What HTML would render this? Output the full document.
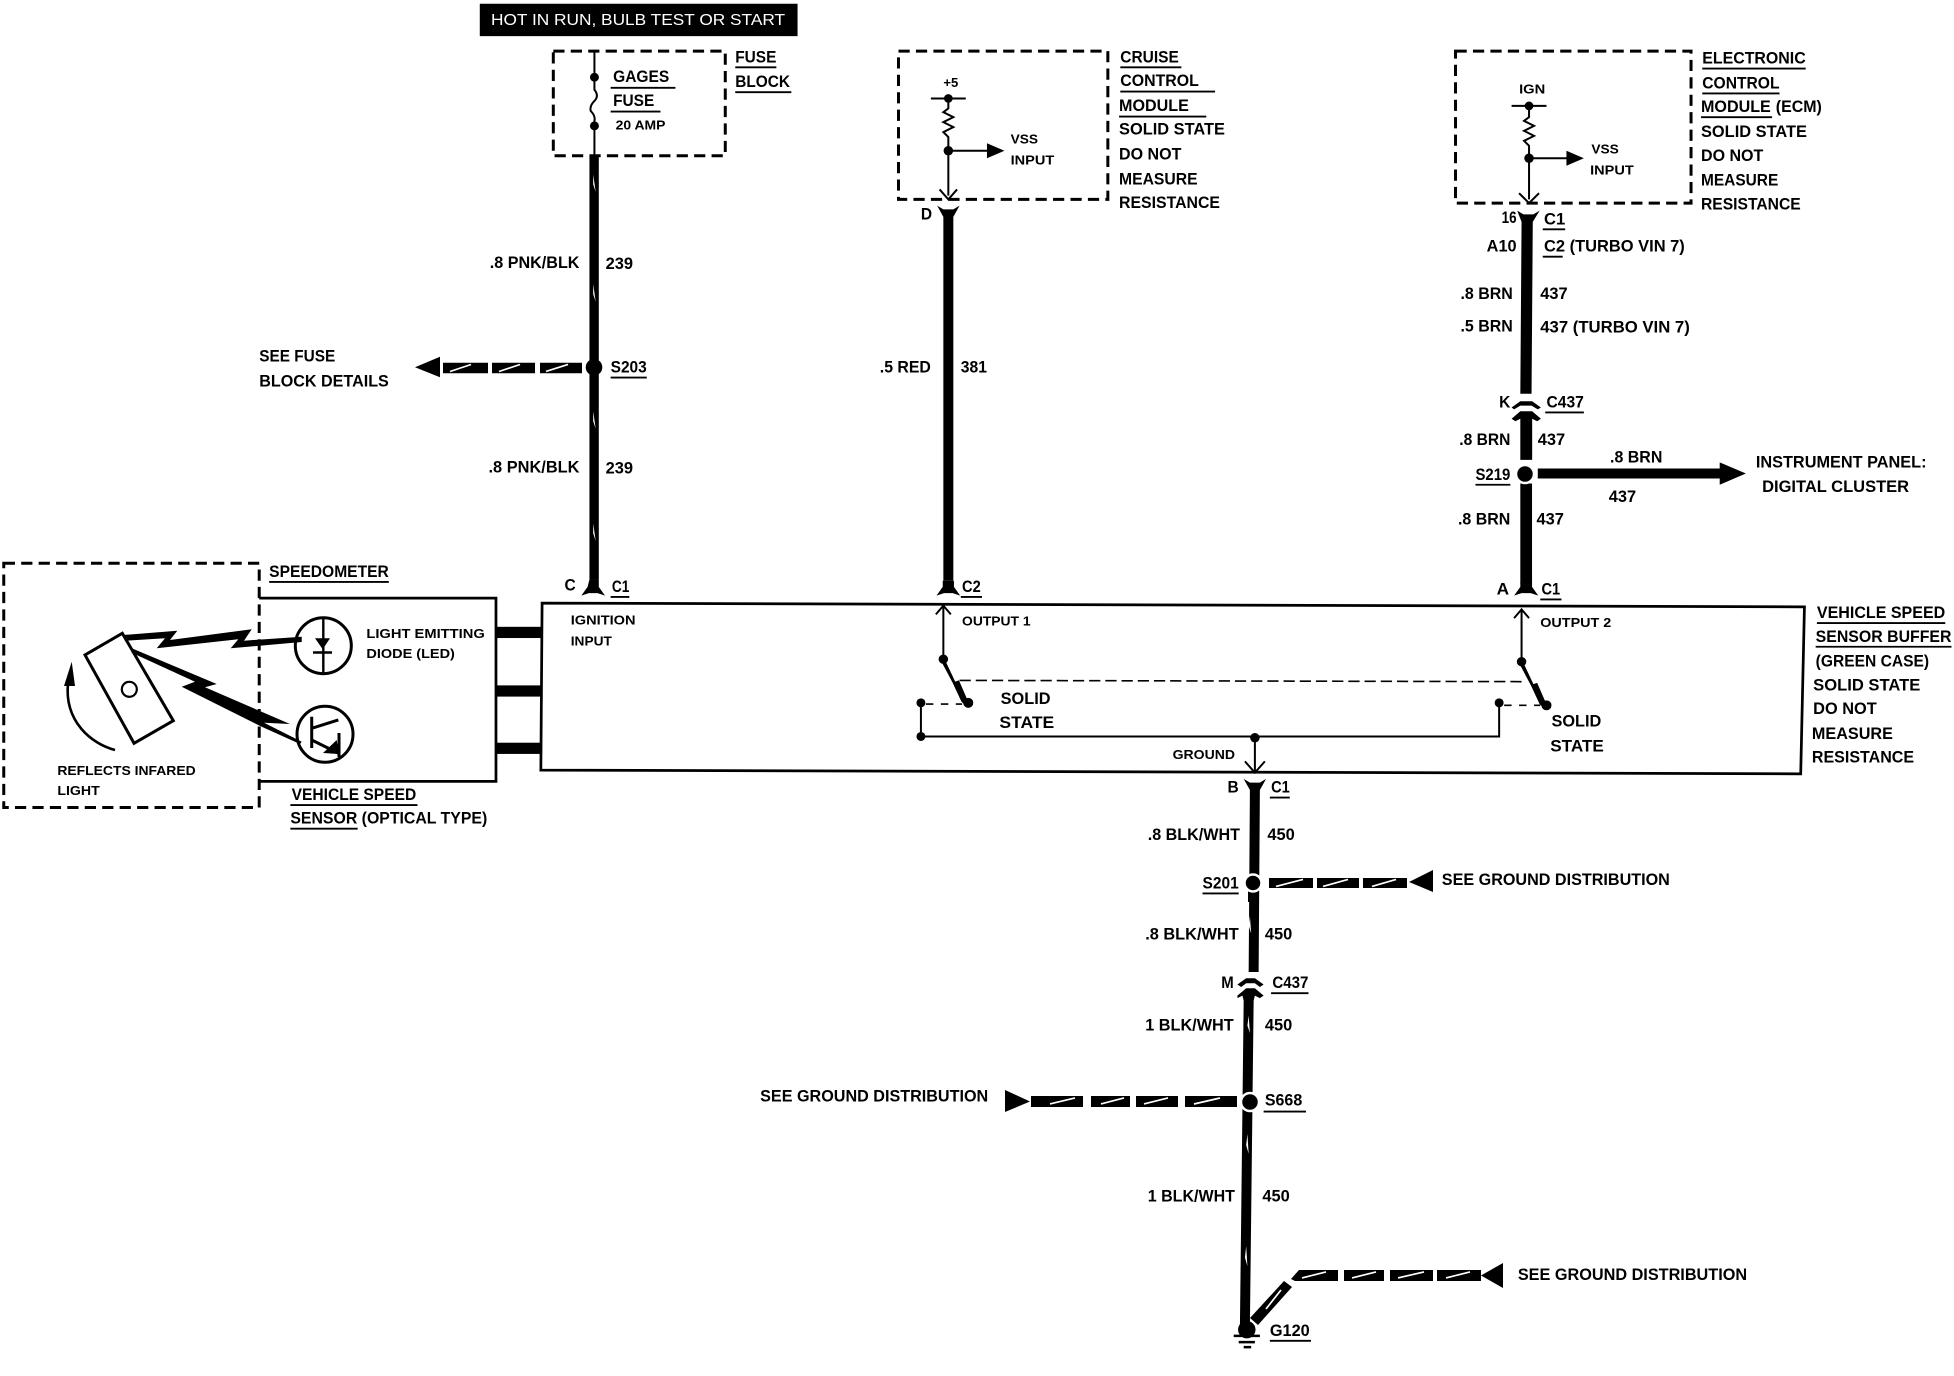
<!DOCTYPE html>
<html><head><meta charset="utf-8"><style>
html,body{margin:0;padding:0;background:#fff}
svg{display:block}
text{font-family:"Liberation Sans",sans-serif;font-weight:bold;font-size:13px;fill:#000}
.s{font-size:10.5px}
.w{fill:#fff;stroke:none}
.d{fill:none;stroke:#000;stroke-width:2.4;stroke-dasharray:9 5}
.l{fill:none;stroke:#000;stroke-width:1.6}
.u{fill:none;stroke:#000;stroke-width:1.5}
.r{stroke:#fff;stroke-width:2.500}
.sl{fill:none;stroke:#fff;stroke-width:1.700}
</style></head><body>
<svg width="1954" height="1376" viewBox="0 0 1568 1104.2" xmlns="http://www.w3.org/2000/svg">
<rect width="1568" height="1105" fill="#fff"/>
<!-- title -->
<rect x="385" y="3" width="255" height="26" fill="#000"/>
<text x="394" y="20" textLength="236" lengthAdjust="spacingAndGlyphs" style="fill:#fff;font-weight:normal;font-size:12.5px">HOT IN RUN, BULB TEST OR START</text>

<!-- fuse block -->
<rect class="d" x="444" y="41" width="138" height="84"/>
<path class="l" d="M477 41V72q4 5 0 9t-3 8q4 4 3 8V125"/>
<circle cx="477" cy="62" r="3.600"/><circle cx="477" cy="101" r="3.600"/>
<text x="492" y="66" textLength="45" lengthAdjust="spacingAndGlyphs">GAGES</text>
<path class="u" d="M490 70.500H542"/>
<text x="492" y="85" textLength="33" lengthAdjust="spacingAndGlyphs">FUSE</text>
<path class="u" d="M490 89.500H530"/>
<text class="s" x="494" y="104" textLength="40" lengthAdjust="spacingAndGlyphs">20 AMP</text>
<text x="590" y="50" textLength="33" lengthAdjust="spacingAndGlyphs">FUSE</text>
<path class="u" d="M590 54H623"/>
<text x="590" y="70" textLength="44" lengthAdjust="spacingAndGlyphs">BLOCK</text>
<path class="u" d="M590 74H635"/>

<!-- wire 239 -->
<rect x="473" y="125" width="7.500" height="340"/>
<path d="M473 465h7.500l0 6 5 7-6-2h-7l-6 2 5-7z"/>
<path class="w" d="M476 140l2 14-2-6zM476 228l2 14-2-6zM476 330l2 14-2-6zM476 420l2 14-2-6z"/>
<text x="393" y="215" textLength="72" lengthAdjust="spacingAndGlyphs">.8 PNK/BLK</text>
<text x="486" y="216" textLength="22" lengthAdjust="spacingAndGlyphs">239</text>
<text x="392" y="379" textLength="73" lengthAdjust="spacingAndGlyphs">.8 PNK/BLK</text>
<text x="486" y="380" textLength="22" lengthAdjust="spacingAndGlyphs">239</text>
<text x="490" y="299" textLength="29" lengthAdjust="spacingAndGlyphs">S203</text>
<path class="u" d="M490 303H519"/>
<text x="208" y="290" textLength="61" lengthAdjust="spacingAndGlyphs">SEE FUSE</text>
<text x="208" y="310" textLength="104" lengthAdjust="spacingAndGlyphs">BLOCK DETAILS</text>
<text x="453" y="474" textLength="9" lengthAdjust="spacingAndGlyphs">C</text>
<text x="491" y="475" textLength="14" lengthAdjust="spacingAndGlyphs">C1</text>
<path class="u" d="M490 479H505"/>

<!-- cruise -->
<rect class="d" x="721" y="41" width="168" height="119"/>
<text class="s" x="757" y="70" textLength="12" lengthAdjust="spacingAndGlyphs">+5</text>
<path class="l" d="M747 79H775M761 79v8l-4 3 8 4-8 4 8 4-8 4 4 4V157"/>
<circle cx="761" cy="79" r="3.500"/><circle cx="761" cy="121" r="3.800"/>
<path class="l" d="M761 121H795"/><path d="M792 115l14 6-14 6z"/>
<path class="l" d="M754 152l7 8 7-8"/>
<text class="s" x="811" y="115" textLength="22" lengthAdjust="spacingAndGlyphs">VSS</text>
<text class="s" x="811" y="132" textLength="35" lengthAdjust="spacingAndGlyphs">INPUT</text>
<text x="899" y="50" textLength="47" lengthAdjust="spacingAndGlyphs">CRUISE</text>
<path class="u" d="M899 54H948"/>
<text x="899" y="69" textLength="63" lengthAdjust="spacingAndGlyphs">CONTROL</text>
<path class="u" d="M899 73.500H975"/>
<text x="898" y="89" textLength="56" lengthAdjust="spacingAndGlyphs">MODULE</text>
<path class="u" d="M898 93.500H968"/>
<text x="898" y="108" textLength="85" lengthAdjust="spacingAndGlyphs">SOLID STATE</text>
<text x="898" y="128" textLength="50" lengthAdjust="spacingAndGlyphs">DO NOT</text>
<text x="898" y="148" textLength="63" lengthAdjust="spacingAndGlyphs">MEASURE</text>
<text x="898" y="167" textLength="81" lengthAdjust="spacingAndGlyphs">RESISTANCE</text>
<text x="739" y="176" textLength="9" lengthAdjust="spacingAndGlyphs">D</text>
<path d="M752 165l5 3h8l5-3-5 9V466h-8V174z"/>
<path d="M756.500 466h9l0 5 5 7-6-2h-7l-6 2 5-7z"/>
<text x="706" y="299" textLength="41" lengthAdjust="spacingAndGlyphs">.5 RED</text>
<text x="771" y="299" textLength="21" lengthAdjust="spacingAndGlyphs">381</text>
<text x="772" y="475" textLength="15" lengthAdjust="spacingAndGlyphs">C2</text>
<path class="u" d="M771 479H788"/>

<!-- ECM -->
<rect class="d" x="1168" y="41" width="189" height="122"/>
<text class="s" x="1219" y="75" textLength="21" lengthAdjust="spacingAndGlyphs">IGN</text>
<path class="l" d="M1213 85H1241M1227 85v9l-4 3 8 4-8 4 8 4-8 4 4 4V160"/>
<circle cx="1227" cy="85" r="3.500"/><circle cx="1227" cy="127" r="3.800"/>
<path class="l" d="M1227 127H1260"/><path d="M1257 121l14 6-14 6z"/>
<path class="l" d="M1219 155l8 8 8-8"/>
<text class="s" x="1277" y="123" textLength="22" lengthAdjust="spacingAndGlyphs">VSS</text>
<text class="s" x="1276" y="140" textLength="35" lengthAdjust="spacingAndGlyphs">INPUT</text>
<text x="1366" y="51" textLength="83" lengthAdjust="spacingAndGlyphs">ELECTRONIC</text>
<path class="u" d="M1366 55H1449"/>
<text x="1366" y="71" textLength="62" lengthAdjust="spacingAndGlyphs">CONTROL</text>
<path class="u" d="M1366 75H1428"/>
<text x="1365" y="90" textLength="56" lengthAdjust="spacingAndGlyphs">MODULE</text>
<path class="u" d="M1365 94H1422"/>
<text x="1425" y="90" textLength="37" lengthAdjust="spacingAndGlyphs">(ECM)</text>
<text x="1365" y="110" textLength="85" lengthAdjust="spacingAndGlyphs">SOLID STATE</text>
<text x="1365" y="129" textLength="50" lengthAdjust="spacingAndGlyphs">DO NOT</text>
<text x="1365" y="149" textLength="62" lengthAdjust="spacingAndGlyphs">MEASURE</text>
<text x="1365" y="168" textLength="80" lengthAdjust="spacingAndGlyphs">RESISTANCE</text>
<text x="1205" y="179" textLength="12" lengthAdjust="spacingAndGlyphs" style="font-size:13px">16</text>
<path d="M1217.500 169l5 3h8l5-3-5.500 9-1 138h-9l1-138z"/>
<text x="1239" y="180" textLength="17" lengthAdjust="spacingAndGlyphs">C1</text>
<path class="u" d="M1238 184H1256"/>
<text x="1193" y="202" textLength="24" lengthAdjust="spacingAndGlyphs">A10</text>
<text x="1239" y="202" textLength="113" lengthAdjust="spacingAndGlyphs">C2 (TURBO VIN 7)</text>
<path class="u" d="M1238 206H1254"/>
<text x="1172" y="240" textLength="42" lengthAdjust="spacingAndGlyphs">.8 BRN</text>
<text x="1236" y="240" textLength="22" lengthAdjust="spacingAndGlyphs">437</text>
<text x="1172" y="266" textLength="42" lengthAdjust="spacingAndGlyphs">.5 BRN</text>
<text x="1236" y="267" textLength="120" lengthAdjust="spacingAndGlyphs">437 (TURBO VIN 7)</text>
<text x="1203" y="327" textLength="9" lengthAdjust="spacingAndGlyphs">K</text>
<text x="1241" y="327" textLength="30" lengthAdjust="spacingAndGlyphs">C437</text>
<path class="u" d="M1240 331H1271"/>
<path d="M1213 327l7-5h9.500l7 5-2.500 1.500-5-3h-9l-5 3zM1213 336l7-6h9.500l7 6-3 2-4-2V369h-9.500V336l-4 2z"/>
<rect x="1220" y="388" width="9.400" height="80"/>
<path d="M1220 467h9.400v4l5 7-6-2h-7.400l-6 2 5-7z"/>
<text x="1171" y="357" textLength="41" lengthAdjust="spacingAndGlyphs">.8 BRN</text>
<text x="1234" y="357" textLength="22" lengthAdjust="spacingAndGlyphs">437</text>
<text x="1184" y="385" textLength="28" lengthAdjust="spacingAndGlyphs">S219</text>
<path class="u" d="M1184 389H1212"/>
<circle cx="1224.500" cy="380" r="6.800"/>
<path d="M1234 376H1380V371l21 9-21 9V384H1234z"/>
<text x="1292" y="371" textLength="42" lengthAdjust="spacingAndGlyphs">.8 BRN</text>
<text x="1291" y="403" textLength="22" lengthAdjust="spacingAndGlyphs">437</text>
<text x="1409" y="375" textLength="137" lengthAdjust="spacingAndGlyphs">INSTRUMENT PANEL:</text>
<text x="1414" y="395" textLength="118" lengthAdjust="spacingAndGlyphs">DIGITAL CLUSTER</text>
<text x="1170" y="421" textLength="42" lengthAdjust="spacingAndGlyphs">.8 BRN</text>
<text x="1233" y="421" textLength="22" lengthAdjust="spacingAndGlyphs">437</text>
<text x="1201" y="477" textLength="10" lengthAdjust="spacingAndGlyphs">A</text>
<text x="1237" y="477" textLength="15" lengthAdjust="spacingAndGlyphs">C1</text>
<path class="u" d="M1236 481H1253"/>

<!-- buffer box -->
<path d="M435 484L1448 487L1445 621L434 618Z" fill="none" stroke="#000" stroke-width="2.200"/>
<text class="s" x="458" y="501" textLength="52" lengthAdjust="spacingAndGlyphs">IGNITION</text>
<text class="s" x="458" y="518" textLength="33" lengthAdjust="spacingAndGlyphs">INPUT</text>
<text class="s" x="772" y="502" textLength="55" lengthAdjust="spacingAndGlyphs">OUTPUT 1</text>
<text class="s" x="1236" y="503" textLength="57" lengthAdjust="spacingAndGlyphs">OUTPUT 2</text>
<path class="l" d="M757 486V529M751 493l6-7 6 7M1221 489V531M1215 496l6-7 6 7"/>
<circle cx="757" cy="529" r="3.800"/><circle cx="1221" cy="531" r="3.800"/>
<path d="M755.500 531l3-1 8 17 3-1 7 16 4 0v4h-6l-3-3-7-15z"/>
<path d="M1219.500 533l3-1 8 17 3-1 7 16 4 0v4h-6l-3-3-7-15z"/>
<circle cx="777" cy="564" r="4"/><circle cx="1241" cy="566" r="4"/>
<circle cx="739" cy="564" r="3.600"/><circle cx="739" cy="591" r="3.600"/><circle cx="1203" cy="564" r="3.600"/><circle cx="1007" cy="592" r="3.800"/>
<path fill="none" stroke="#000" stroke-width="1.300" stroke-dasharray="9 4" d="M770 546L1222 547"/>
<path fill="none" stroke="#000" stroke-width="1.300" stroke-dasharray="6 6" d="M743 565H772M1207 566H1236"/>
<path class="l" d="M739 564V591H1203V564M1007 592V620M999 611l8 9 8-9"/>
<text x="803" y="565" textLength="40" lengthAdjust="spacingAndGlyphs">SOLID</text>
<text x="802" y="584" textLength="44" lengthAdjust="spacingAndGlyphs">STATE</text>
<text x="1245" y="583" textLength="40" lengthAdjust="spacingAndGlyphs">SOLID</text>
<text x="1244" y="603" textLength="43" lengthAdjust="spacingAndGlyphs">STATE</text>
<text class="s" x="941" y="609" textLength="50" lengthAdjust="spacingAndGlyphs">GROUND</text>
<text x="1458" y="496" textLength="103" lengthAdjust="spacingAndGlyphs">VEHICLE SPEED</text>
<path class="u" d="M1458 500H1561"/>
<text x="1457" y="515" textLength="109" lengthAdjust="spacingAndGlyphs">SENSOR BUFFER</text>
<path class="u" d="M1457 519H1566"/>
<text x="1457" y="535" textLength="91" lengthAdjust="spacingAndGlyphs">(GREEN CASE)</text>
<text x="1455" y="554" textLength="86" lengthAdjust="spacingAndGlyphs">SOLID STATE</text>
<text x="1455" y="573" textLength="51" lengthAdjust="spacingAndGlyphs">DO NOT</text>
<text x="1454" y="593" textLength="65" lengthAdjust="spacingAndGlyphs">MEASURE</text>
<text x="1454" y="612" textLength="82" lengthAdjust="spacingAndGlyphs">RESISTANCE</text>

<!-- ground wire -->
<path d="M998 625l5 3h8l5-3-5 9-1 146h-8l1-146z"/>
<text x="985" y="636" textLength="9" lengthAdjust="spacingAndGlyphs">B</text>
<text x="1020" y="636" textLength="15" lengthAdjust="spacingAndGlyphs">C1</text>
<path class="u" d="M1019 640H1035"/>
<text x="921" y="674" textLength="74" lengthAdjust="spacingAndGlyphs">.8 BLK/WHT</text>
<text x="1017" y="674" textLength="22" lengthAdjust="spacingAndGlyphs">450</text>
<text x="965" y="713" textLength="29" lengthAdjust="spacingAndGlyphs">S201</text>
<path class="u" d="M965 717H994"/>
<text x="1157" y="710" textLength="183" lengthAdjust="spacingAndGlyphs">SEE GROUND DISTRIBUTION</text>
<text x="919" y="754" textLength="75" lengthAdjust="spacingAndGlyphs">.8 BLK/WHT</text>
<text x="1015" y="754" textLength="22" lengthAdjust="spacingAndGlyphs">450</text>
<text x="980" y="793" textLength="10" lengthAdjust="spacingAndGlyphs">M</text>
<text x="1021" y="793" textLength="29" lengthAdjust="spacingAndGlyphs">C437</text>
<path class="u" d="M1020 797H1050"/>
<path d="M993 790l7-5h7l7 5-3 2-4-3h-7l-4 3zM993 799l7-6h7l7 6-3 2-4-2-1 4-3 260h-8l3-260-1-4-4 2z"/>
<path class="w" d="M1003 735l1 14-2-6zM1002 815l1 14-2-6zM1001 910l1 16-2-7zM1000 1000l1 16-2-7z"/>
<text x="919" y="827" textLength="71" lengthAdjust="spacingAndGlyphs">1 BLK/WHT</text>
<text x="1015" y="827" textLength="22" lengthAdjust="spacingAndGlyphs">450</text>
<text x="1015" y="887" textLength="30" lengthAdjust="spacingAndGlyphs">S668</text>
<path class="u" d="M1014 892H1048"/>
<text x="610" y="884" textLength="183" lengthAdjust="spacingAndGlyphs">SEE GROUND DISTRIBUTION</text>
<text x="921" y="964" textLength="70" lengthAdjust="spacingAndGlyphs">1 BLK/WHT</text>
<text x="1013" y="964" textLength="22" lengthAdjust="spacingAndGlyphs">450</text>
<circle cx="1000.500" cy="1067" r="7"/>
<path d="M990 1071H1011v2H990zM994 1076H1007v2H994zM998 1080H1004v2H998z"/>
<text x="1019" y="1072" textLength="32" lengthAdjust="spacingAndGlyphs">G120</text>
<path class="u" d="M1019 1076H1052"/>
<text x="1218" y="1027" textLength="184" lengthAdjust="spacingAndGlyphs">SEE GROUND DISTRIBUTION</text>

<!-- speedometer & sensor labels -->
<rect class="d" x="3" y="452" width="205" height="196"/>
<path d="M208 480H398V627H208" fill="none" stroke="#000" stroke-width="2.200"/>
<rect x="398" y="503" width="37" height="9"/>
<rect x="398" y="550" width="37" height="9"/>
<rect x="398" y="596" width="37" height="9"/>
<text x="216" y="463" textLength="96" lengthAdjust="spacingAndGlyphs">SPEEDOMETER</text>
<path class="u" d="M216 467H312"/>
<text class="s" x="294" y="512" textLength="95" lengthAdjust="spacingAndGlyphs">LIGHT EMITTING</text>
<text class="s" x="294" y="528" textLength="71" lengthAdjust="spacingAndGlyphs">DIODE (LED)</text>
<text class="s" x="46" y="622" textLength="111" lengthAdjust="spacingAndGlyphs">REFLECTS INFARED</text>
<text class="s" x="46" y="638" textLength="34" lengthAdjust="spacingAndGlyphs">LIGHT</text>
<text x="234" y="642" textLength="100" lengthAdjust="spacingAndGlyphs">VEHICLE SPEED</text>
<path class="u" d="M233 646H335"/>
<text x="233" y="661" textLength="158" lengthAdjust="spacingAndGlyphs">SENSOR (OPTICAL TYPE)</text>
<path class="u" d="M233 665H287"/>

<!-- elements in true pixel coordinates -->
<g transform="scale(.80246)">
  <!-- mirror, arc, circle -->
  <path d="M122.300 633.300L85 655L134 743.300L173.300 720.700Z" fill="none" stroke="#000" stroke-width="3"/>
  <circle cx="129.300" cy="689.300" r="7.500" fill="none" stroke="#000" stroke-width="2.200"/>
  <path fill="none" stroke="#000" stroke-width="2.600" d="M115 750C92 744 64 722 68 683"/>
  <path d="M71.700 661.700L75 686H64z"/>
  <!-- lightning bolts -->
  <path d="M123.300 635L177.300 630.700L170 640L251.700 629.300L244 640.700L301.700 636.700V642L230.700 648.300L238.300 639.300L156.700 648.300L165 638.300L125 640.700Z"/>
  <path d="M131.700 648.300L216.700 684L205 687.300L290 724L264 722.700L301.700 741.700L300 744L261.700 726.700L181.700 686.700L195 681.700L131.700 652.700Z"/>
  <!-- LED -->
  <circle cx="323.300" cy="645.700" r="28" fill="none" stroke="#000" stroke-width="3"/>
  <path fill="none" stroke="#000" stroke-width="2.400" d="M323.300 618V674M313 652.500H332"/>
  <path d="M315 638.300H330L322.700 649.300z"/>
  <!-- transistor -->
  <circle cx="325" cy="734.300" r="28" fill="none" stroke="#000" stroke-width="3"/>
  <path fill="none" stroke="#000" stroke-width="3" d="M311.700 716.700V748M311.700 728.300L338.300 720M311.700 740L338 753M339 733V757"/>
  <path d="M323 753L336.700 740L339 754z"/>

  <!-- S203 -->
  <rect x="589.500" y="340" width="9" height="16"/><rect x="589.500" y="378" width="9" height="12"/>
  <circle cx="594" cy="367.300" r="8.300"/>
  <path d="M415 367.300L440 356.700V377.300z"/>
  <path d="M443 362.700H488V373.300H443zM492 362.700H535V373.300H492zM540 362.700H582V373.300H540z"/>
  <path class="sl" d="M450 371.500L471 364.500M499 371.500L520 364.500M546 371.500L568 364.500"/>

  <!-- S201 -->
  <rect x="1248" y="890" width="9" height="12" fill="#000"/>
  <circle cx="1253" cy="883" r="8.500" class="r"/>
  <path d="M1269 878H1313V888H1269zM1317 878H1359V888H1317zM1363 878H1407V888H1363z"/>
  <path class="sl" d="M1276 886.500L1303 879.500M1323 886.500L1348 879.500M1372 886.500L1396 879.500"/>
  <path d="M1409 882L1433 870V892z"/>

  <!-- S668 -->
  <circle cx="1250" cy="1102" r="9" class="r"/>
  <path d="M1005 1090L1030 1101.500L1005 1112z"/>
  <path d="M1031 1096H1083V1107H1031zM1091 1096H1130V1107H1091zM1136 1096H1178V1107H1136zM1185 1096H1237V1107H1185z"/>
  <path class="sl" d="M1050 1104L1075 1098M1101 1104L1124 1098M1144 1104L1168 1098M1194 1104L1220 1098"/>

  <!-- S219 ring -->
  <circle cx="1525" cy="474" r="9" class="r" style="fill:#000"/>

  <!-- G120 branch -->
  <path d="M1250 1318L1258 1325L1292 1287L1284 1281z"/>
  <path class="sl" d="M1266 1309L1281 1290"/>
  <path d="M1291 1279L1299 1270H1338V1281H1295zM1344 1270H1384V1281H1344zM1390 1270H1433V1281H1390zM1437 1270H1481V1281H1437z"/>
  <path class="sl" d="M1302 1278L1326 1272M1352 1278L1376 1272M1398 1278L1424 1272M1446 1278L1470 1272"/>
  <path d="M1481 1275.500L1503 1263V1288z"/>
</g>
</svg>
</body></html>
